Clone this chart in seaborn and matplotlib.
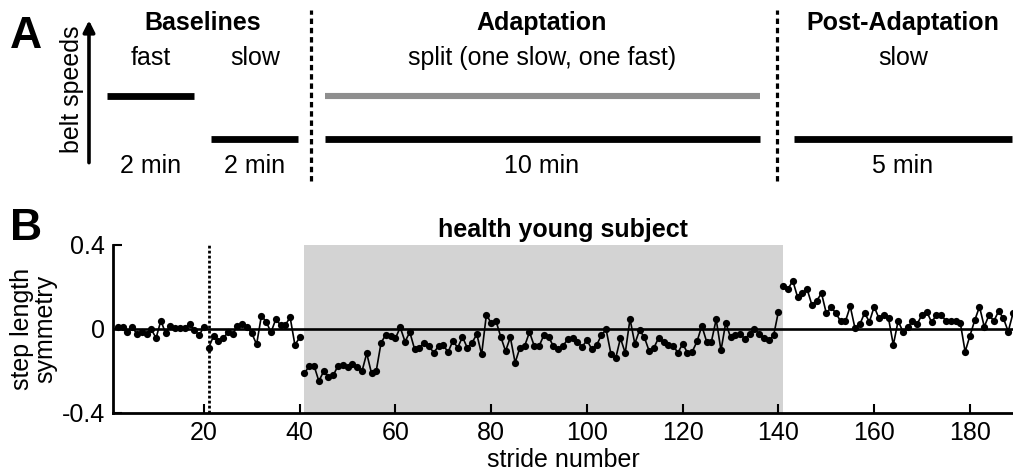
import numpy as np
import pandas as pd
import matplotlib
matplotlib.use("Agg")
import matplotlib.pyplot as plt
import seaborn as sns

# ---------------- data ----------------
# Panel A: protocol schematic
phase_names = ["fast", "slow", "split (one slow, one fast)", "slow"]
phase_minutes = [2, 2, 10, 5]
phase_gaps = [0.0, 0.4, 0.6, 0.8]          # spacing before each block (min)
phase_speed = [1, 0, 0, 0]                 # 1 = fast, 0 = slow
phase_headers = ["Baselines", "Adaptation", "Post-Adaptation"]
duration_labels = ["2 min", "2 min", "10 min", "5 min"]

# Panel B: step length symmetry per stride
baseline_fast = [0.011, 0.011, -0.016, 0.011, -0.025, -0.016, -0.025, -0.002, -0.043, 0.040,
                 -0.021, 0.016, 0.006, 0.006, 0.006, 0.022, -0.005, -0.030, 0.011]
baseline_slow = [-0.089, -0.033, -0.057, -0.044, -0.016, -0.024, 0.016, 0.024, 0.008, -0.021,
                 -0.073, 0.063, 0.035, -0.016, 0.046, 0.019, 0.019, 0.056, -0.076, -0.040]
adaptation = [-0.211, -0.175, -0.175, -0.248, -0.202, -0.227, -0.221, -0.175, -0.170, -0.183,
              -0.167, -0.179, -0.202, -0.116, -0.211, -0.198, -0.065, -0.027, -0.033, -0.044,
              0.008, -0.060, -0.015, -0.096, -0.089, -0.065, -0.083, -0.112, -0.082, -0.078,
              -0.110, -0.056, -0.089, -0.038, -0.089, -0.065, -0.025, -0.121, 0.069, 0.027,
              0.038, -0.037, -0.105, -0.040, -0.160, -0.089, -0.080, -0.015, -0.081, -0.082,
              -0.029, -0.037, -0.083, -0.094, -0.080, -0.049, -0.043, -0.063, -0.084, -0.054,
              -0.095, -0.078, -0.030, -0.002, -0.117, -0.140, -0.044, -0.114, 0.048, -0.070,
              -0.005, -0.040, -0.105, -0.089, -0.041, -0.063, -0.075, -0.079, -0.113, -0.071,
              -0.113, -0.108, -0.059, 0.015, -0.060, -0.060, 0.046, -0.102, 0.030, -0.040,
              -0.030, -0.025, -0.046, -0.024, 0.000, -0.024, -0.043, -0.054, -0.030, 0.083]
post_adaptation = [0.205, 0.190, 0.230, 0.152, 0.170, 0.189, 0.114, 0.135, 0.170, 0.075,
                   0.103, 0.076, 0.036, 0.037, 0.108, 0.003, 0.022, 0.076, 0.034, 0.106,
                   0.051, 0.068, 0.051, -0.076, 0.038, -0.012, 0.010, 0.036, 0.025, 0.068,
                   0.082, 0.032, 0.067, 0.067, 0.038, 0.038, 0.038, 0.028, -0.108, -0.033,
                   0.041, 0.106, 0.011, 0.067, 0.038, 0.085, 0.051, -0.012, 0.075]
segment_starts = [2, 21, 41, 141]
adapt_span = (41, 141)
slow_baseline_start = 21
xticks_B = [20, 40, 60, 80, 100, 120, 140, 160, 180]
yticks_B = [-0.4, 0, 0.4]
ytick_labels_B = ["-0.4", "0", "0.4"]

# ---------------- style ----------------
sns.set_style("ticks")
plt.rcParams['font.family'] = ['Liberation Sans', 'DejaVu Sans']
plt.rcParams.update({"text.color": "black", "axes.labelcolor": "black",
                     "xtick.color": "black", "ytick.color": "black",
                     "axes.edgecolor": "black"})
FS = 18

W, H = 1013, 472
fig = plt.figure(figsize=(W / 100, H / 100), dpi=100)

# ---------------- panel A ----------------
axA = fig.add_axes([0, 1 - 190 / H, 1, 190 / H])
axA.axis("off")
px_per_min = 43.5
axA.set_xlim(-107 / px_per_min, (W - 107) / px_per_min)
axA.set_ylim(-(190 - 139) / 43, 1 + 96 / 43)

starts = []
t = 0.0
for g, d in zip(phase_gaps, phase_minutes):
    t += g
    starts.append(t)
    t += d
ends = [s + d for s, d in zip(starts, phase_minutes)]
centers = [(s + e) / 2 for s, e in zip(starts, ends)]

for i, (s, e, sp) in enumerate(zip(starts, ends, phase_speed)):
    axA.plot([s, e], [sp, sp], color="black", lw=4.9, solid_capstyle="butt")
# split belt: one belt fast (gray) during adaptation
axA.plot([starts[2], ends[2]], [1, 1], color="#8e8e8e", lw=4.4, solid_capstyle="butt")

for name, c in zip(phase_names, centers):
    axA.text(c, 1.88, name, ha="center", va="center", fontsize=FS)
for lab, c in zip(duration_labels, centers):
    axA.text(c, -0.63, lab, ha="center", va="center", fontsize=FS)

header_x = [(starts[0] + ends[1]) / 2, centers[2], centers[3]]
for h, x in zip(phase_headers, header_x):
    axA.text(x, 2.70, h, ha="center", va="center", fontsize=FS, fontweight="bold")

for x in [(ends[1] + starts[2]) / 2, (ends[2] + starts[3]) / 2]:
    axA.plot([x, x], [-0.97, 3.0], color="black", lw=2.3, linestyle=(0, (1.7, 1.2)))

axA.annotate("", xy=(-0.414, 2.76), xytext=(-0.414, -0.55),
             arrowprops=dict(arrowstyle="-|>", lw=2.6, color="black", mutation_scale=17,
                             shrinkA=0, shrinkB=0))
axA.text(-0.80, 1.16, "belt speeds", rotation=90, ha="center", va="center", fontsize=FS)

# ---------------- panel B ----------------
frames = []
for k, (st, vals) in enumerate(zip(segment_starts,
                                   [baseline_fast, baseline_slow, adaptation, post_adaptation])):
    frames.append(pd.DataFrame({"stride": np.arange(st, st + len(vals)),
                                "symmetry": vals, "segment": k}))
df = pd.concat(frames, ignore_index=True)

axB = fig.add_axes([113 / W, 1 - 413 / H, 900 / W, 168 / H])
axB.axvspan(adapt_span[0], adapt_span[1], color="#d3d3d3", lw=0, zorder=0)
axB.axhline(0, color="black", lw=1.9, zorder=1)
axB.axvline(slow_baseline_start, color="black", lw=2.0, linestyle=(0, (1.0, 0.8)), zorder=1)
sns.lineplot(data=df, x="stride", y="symmetry", units="segment", estimator=None,
             color="black", lw=1.2, marker="o", markersize=5.2, markeredgewidth=0,
             ax=axB, zorder=3, legend=False)

axB.set_xlim(1, 189)
axB.set_ylim(-0.4, 0.4)
axB.set_xticks(xticks_B)
axB.set_yticks(yticks_B)
axB.set_yticklabels(ytick_labels_B)
axB.tick_params(direction="in", length=6.5, width=1.5, labelsize=FS, pad=6, color="black")
for sp in ["top", "right"]:
    axB.spines[sp].set_visible(False)
for sp in ["left", "bottom"]:
    axB.spines[sp].set_linewidth(2.0)
    axB.spines[sp].set_color("black")
axB.set_xlabel("stride number", fontsize=FS, labelpad=2)
axB.set_ylabel("step length\nsymmetry", fontsize=FS, linespacing=0.95)
axB.yaxis.set_label_coords(-0.062, 0.5)
axB.set_title("health young subject", fontsize=FS, fontweight="bold", pad=6)

fig.text(26 / W, 1 - 36 / H, "A", ha="center", va="center", fontsize=32, fontweight="bold")
fig.text(26 / W, 1 - 228 / H, "B", ha="center", va="center", fontsize=32, fontweight="bold")

fig.savefig("out.png", dpi=100)
